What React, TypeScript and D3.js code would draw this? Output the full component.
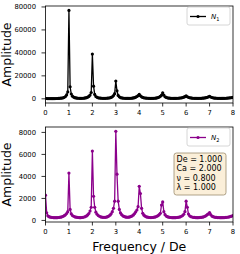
import React from "react";
import * as d3 from "d3";

// frequency grid (step 0.05 in units of De)
const freqStep = 0.05;
const frequencies = d3.range(0, 161).map((i) => +(i * freqStep).toFixed(2));

// N1 amplitude, one row per unit of frequency
const n1Values = [
  400, 300, 250, 220, 200, 200, 210, 220, 240, 270, 300, 350, 420, 520, 680, 900, 1300, 2000, 3400, 6000,
  77000, 10500, 4200, 2300, 1500, 1000, 750, 600, 500, 450, 430, 450, 500, 600, 750, 1000, 1400, 2100, 3300, 5500,
  39000, 11000, 3800, 2000, 1300, 900, 700, 550, 480, 440, 420, 440, 480, 560, 700, 900, 1250, 1800, 2800, 4500,
  15500, 7000, 3000, 1700, 1100, 800, 620, 500, 440, 400, 390, 400, 440, 500, 600, 750, 1000, 1400, 2000, 2700,
  3800, 2600, 1700, 1200, 900, 700, 560, 480, 420, 390, 380, 390, 430, 500, 600, 780, 1050, 1500, 2200, 3200,
  5200, 3300, 1800, 1200, 880, 680, 550, 470, 420, 390, 380, 390, 420, 480, 560, 700, 880, 1100, 1450, 1900,
  2600, 1800, 1300, 950, 740, 600, 510, 450, 410, 390, 380, 390, 410, 460, 530, 640, 790, 1000, 1300, 1700,
  2200, 1600, 1150, 870, 690, 570, 490, 440, 410, 390, 380, 390, 410, 450, 510, 590, 700, 820, 950, 1080,
  1200,
];

// N2 amplitude
const n2Values = [
  2300, 700, 420, 340, 300, 280, 265, 255, 250, 250, 255, 265, 280, 300, 330, 370, 430, 510, 630, 800,
  4300, 1000, 600, 450, 380, 330, 300, 280, 265, 255, 255, 265, 285, 310, 350, 410, 500, 630, 850, 1200,
  6300, 2200, 1200, 750, 560, 450, 380, 330, 300, 285, 280, 285, 300, 340, 400, 480, 600, 800, 1100, 1750,
  8100, 4200, 1750, 1000, 680, 520, 420, 360, 320, 300, 290, 300, 320, 360, 420, 500, 620, 780, 950, 1250,
  3100, 2450, 1100, 650, 480, 390, 330, 300, 280, 265, 260, 265, 280, 300, 330, 370, 430, 520, 650, 1400,
  1680, 800, 520, 400, 340, 300, 280, 265, 255, 250, 250, 255, 265, 280, 300, 330, 380, 450, 560, 800,
  1750, 1200, 580, 420, 350, 310, 285, 270, 260, 255, 255, 260, 270, 285, 300, 330, 370, 430, 520, 600,
  720, 520, 400, 340, 305, 285, 272, 263, 256, 251, 250, 252, 257, 264, 274, 288, 306, 330, 360, 400,
  450,
];

const xTicks = [0, 1, 2, 3, 4, 5, 6, 7, 8];
const n1Ticks = [0, 20000, 40000, 60000, 80000];
const n2Ticks = [0, 2000, 4000, 6000, 8000];
const paramLines = ["De = 1.000", "Ca = 2.000", "\u03bd = 0.800", "\u03bb = 1.000"];

const W = 240;
const H = 254;
const left = 45.5;
const right = 233;
const font = "DejaVu Sans, sans-serif";

type PanelProps = {
  top: number;
  bottom: number;
  values: number[];
  ticks: number[];
  color: string;
  sub: string;
  children?: React.ReactNode;
};

function Panel({ top, bottom, values, ticks, color, sub, children }: PanelProps) {
  const x = d3.scaleLinear().domain([0, 8]).range([left, right]);
  const [lo, hi] = d3.extent(values) as [number, number];
  const pad = (hi - lo) * 0.05;
  const y = d3.scaleLinear().domain([lo - pad, hi + pad]).range([bottom, top]);
  const pts = frequencies.map((f, i) => [x(f), y(values[i])] as [number, number]);
  const line = d3.line()(pts) || "";
  const clipId = "clip" + top;

  return (
    <g>
      <defs>
        <clipPath id={clipId}>
          <rect x={left} y={top} width={right - left} height={bottom - top} />
        </clipPath>
      </defs>
      <g clipPath={`url(#${clipId})`}>
        <path d={line} fill="none" stroke={color} strokeWidth={1.3} />
        {pts.map((p, i) => (
          <circle key={i} cx={p[0]} cy={p[1]} r={1.6} fill={color} />
        ))}
      </g>
      <rect x={left} y={top} width={right - left} height={bottom - top} fill="none" stroke="#000" strokeWidth={0.8} />
      {xTicks.map((t) => (
        <g key={"x" + t}>
          <line x1={x(t)} x2={x(t)} y1={bottom} y2={bottom + 3.5} stroke="#000" strokeWidth={0.8} />
          <text x={x(t)} y={bottom + 12} fontSize={6.8} textAnchor="middle" fontFamily={font}>
            {t}
          </text>
        </g>
      ))}
      {ticks.map((t) => (
        <g key={"y" + t}>
          <line x1={left - 4} x2={left} y1={y(t)} y2={y(t)} stroke="#000" strokeWidth={0.8} />
          <text x={left - 9.5} y={y(t) + 2.5} fontSize={6.8} textAnchor="end" fontFamily={font}>
            {t}
          </text>
        </g>
      ))}
      <text
        transform={`translate(11,${(top + bottom) / 2}) rotate(-90)`}
        fontSize={12.5}
        textAnchor="middle"
        fontFamily={font}
      >
        Amplitude
      </text>
      {/* legend */}
      <g transform={`translate(187,${top + 1})`}>
        <rect x={0} y={0} width={43} height={18} rx={2} fill="#fff" stroke="#ccc" strokeWidth={0.8} />
        <line x1={3} x2={19} y1={9.5} y2={9.5} stroke={color} strokeWidth={1.3} />
        <circle cx={11} cy={9.5} r={1.6} fill={color} />
        <text x={24} y={12} fontSize={7} fontStyle="italic" fontFamily={font}>
          N
          <tspan fontSize={5} dy={1.5} fontStyle="normal">
            {sub}
          </tspan>
        </text>
      </g>
      {children}
    </g>
  );
}

export default function App() {
  return (
    <svg width={W} height={H} style={{ position: "absolute", left: 0, top: 0, background: "#fff" }}>
      <Panel top={6} bottom={103} values={n1Values} ticks={n1Ticks} color="#000" sub="1" />
      <Panel top={127} bottom={222} values={n2Values} ticks={n2Ticks} color="#8b008b" sub="2">
        <g transform="translate(174,153)">
          <rect x={0} y={0} width={52} height={42} rx={2.5} fill="#fbefd9" stroke="#9c8d70" strokeWidth={0.8} />
          {paramLines.map((s, i) => (
            <text key={s} x={2.5} y={9 + i * 9.4} fontSize={8} fontFamily={font}>
              {s}
            </text>
          ))}
        </g>
      </Panel>
      <text x={(left + right) / 2} y={251} fontSize={12.5} textAnchor="middle" fontFamily={font}>
        Frequency / De
      </text>
    </svg>
  );
}
